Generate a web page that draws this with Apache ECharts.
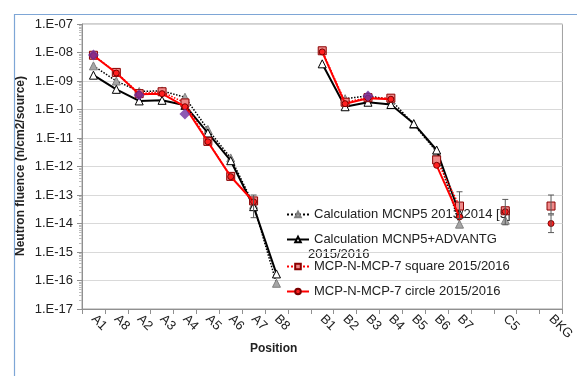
<!DOCTYPE html>
<html>
<head>
<meta charset="utf-8">
<script src="https://cdn.jsdelivr.net/npm/echarts@6/dist/echarts.min.js"></script>
<style>html,body{margin:0;padding:0;background:#fff}#c{width:577px;height:376px}</style>
</head>
<body>
<div id="c"></div>
<script>
const categories = ['A1','A8','A2','A3','A4','A5','A6','A7','B8','','B1','B2','B3','B4','B5','B6','B7','','C5','','BKG'];
const seriesNames = ['Calculation MCNP5 2013/2014 [5]','Calculation MCNP5+ADVANTG 2015/2016','MCP-N-MCP-7 square 2015/2016','MCP-N-MCP-7 circle 2015/2016'];
const mcnp5_2013 = [3.4e-9,1.0e-9,4.3e-10,4.5e-10,2.7e-10,2.0e-11,2.0e-12,4.6e-14,8e-17,null,null,2.4e-10,3.0e-10,2.2e-10,3.0e-11,3.3e-12,9.5e-15,null,1.3e-14,null,null];
const advantg = [1.6e-9,5.1e-10,2.0e-10,2.1e-10,1.4e-10,1.5e-11,1.6e-12,3.9e-14,1.7e-16,null,4.0e-9,1.25e-10,1.8e-10,1.5e-10,3.2e-11,3.8e-12,2.2e-14,null,null,null,null];
const mcpSquare = [8.0e-9,2.0e-9,3.6e-10,4.2e-10,1.7e-10,7.6e-12,4.5e-13,6.2e-14,null,null,1.15e-8,1.8e-10,2.6e-10,2.5e-10,null,1.7e-12,4.1e-14,null,2.8e-14,null,4.1e-14];
const mcpCircle = [7.8e-9,1.9e-9,3.4e-10,3.6e-10,1.25e-10,7.4e-12,4.4e-13,5.8e-14,null,null,1.05e-8,1.6e-10,2.5e-10,2.3e-10,null,1.1e-12,1.7e-14,null,2.6e-14,null,1.0e-14];
const diamonds = [8.2e-9,null,3.2e-10,null,6.9e-11,null,null,null,null,null,null,null,3.0e-10,null,null,null,null,null,null,null,null];
// error bars: [category, low, high]
const errorBars = [['A7',1.6e-14,1.0e-13],['B7',1.5e-14,1.3e-13],['C5',9e-15,7e-14],['BKG',2.2e-14,1.0e-13],['BKG',4.8e-15,2.0e-14]];
const yTicks = ['1.E-17','1.E-16','1.E-15','1.E-14','1.E-13','1.E-12','1.E-11','1.E-10','1.E-09','1.E-08','1.E-07'];

const FONT = 'Liberation Sans, Arial, sans-serif';
const chart = echarts.init(document.getElementById('c'), null, {renderer:'canvas'});

function legendAt(name, top, label) {
  return {
    data:[name], left:286, top:top, padding:0, itemWidth:22, itemHeight:7,
    selectedMode:false,
    formatter: label ? (()=>label) : undefined,
    textStyle:{fontFamily:FONT, fontSize:13, color:'#222'}
  };
}

const option = {
  animation:false,
  graphic:[
    {type:'rect', left:12, top:12, shape:{width:600, height:400}, style:{fill:'none', stroke:'#7ea6d6', lineWidth:1.2}, silent:true, z:-10},
    {type:'text', left:250, top:343, style:{text:'Position', font:'bold 12px '+FONT, fill:'#222'}},
    {type:'text', x:21, y:166, rotation:Math.PI/2,
     style:{text:'Neutron fluence (n/cm2/source)', font:'bold 12px '+FONT, fill:'#222', align:'center', verticalAlign:'middle'}},
    {type:'text', left:308, top:248, style:{text:'2015/2016', font:'13px '+FONT, fill:'#222'}}
  ],
  legend:[
    legendAt(seriesNames[0], 208),
    legendAt(seriesNames[1], 233, 'Calculation MCNP5+ADVANTG'),
    legendAt(seriesNames[2], 260),
    legendAt(seriesNames[3], 285)
  ],
  grid:{left:82, right:8, top:24, bottom:67, show:true, borderColor:'#a0a0a0', borderWidth:1, backgroundColor:'transparent'},
  xAxis:{
    type:'category', data:categories, boundaryGap:true,
    axisLine:{lineStyle:{color:'#909090'}},
    axisTick:{show:true, interval:0, length:5, lineStyle:{color:'#909090'}},
    axisLabel:{interval:0, rotate:-45, fontFamily:FONT, fontSize:13, color:'#222', margin:8},
    splitLine:{show:false}
  },
  yAxis:{
    type:'log', logBase:10, min:1e-17, max:1e-7, interval:1,
    axisLine:{show:true, lineStyle:{color:'#909090'}},
    axisTick:{show:true, length:5, lineStyle:{color:'#909090'}},
    minorTick:{show:true, splitNumber:9, length:3, lineStyle:{color:'#bdbdbd'}},
    axisLabel:{fontFamily:FONT, fontSize:13, color:'#222', margin:9,
      formatter:(v)=>{const e=Math.round(Math.log10(v)); return yTicks[e+17];}},
    splitLine:{show:true, lineStyle:{color:'#d9d9d9', width:1}}
  },
  series:[
    {name:seriesNames[0], type:'line', data:mcnp5_2013, symbol:'triangle', symbolSize:8,
     lineStyle:{color:'#000', width:1.5, type:'dotted'},
     itemStyle:{color:'#a6a6a6', borderColor:'#7f7f7f', borderWidth:1}, z:2},
    {name:seriesNames[1], type:'line', data:advantg, symbol:'triangle', symbolSize:8,
     lineStyle:{color:'#000', width:2, type:'solid'},
     itemStyle:{color:'#fff', borderColor:'#000', borderWidth:1}, z:3},
    {name:seriesNames[2], type:'line', data:mcpSquare, symbol:'rect', symbolSize:8,
     lineStyle:{color:'#ff0000', width:1.5, type:'dotted'},
     itemStyle:{color:'#f08a8a', borderColor:'#8b0000', borderWidth:1}, z:4},
    {name:seriesNames[3], type:'line', data:mcpCircle, symbol:'circle', symbolSize:6,
     lineStyle:{color:'#ff0000', width:2, type:'solid'},
     itemStyle:{color:'#ff2020', borderColor:'#7a0000', borderWidth:1}, z:5},
    {name:'diamond', type:'scatter', data:diamonds, symbol:'diamond', symbolSize:11,
     itemStyle:{color:'#7030a0'}, z:6},
    {name:'err', type:'custom', z:7,
     data:errorBars.map(e=>[categories.lastIndexOf(e[0]), e[1], e[2]]),
     encode:{x:0, y:[1,2]},
     renderItem:(params, api)=>{
       const x = api.value(0);
       const lo = api.coord([x, api.value(1)]);
       const hi = api.coord([x, api.value(2)]);
       const w = 3;
       const st = {stroke:'#595959', lineWidth:1};
       return {type:'group', children:[
         {type:'line', shape:{x1:lo[0],y1:lo[1],x2:hi[0],y2:hi[1]}, style:st},
         {type:'line', shape:{x1:hi[0]-w,y1:hi[1],x2:hi[0]+w,y2:hi[1]}, style:st},
         {type:'line', shape:{x1:lo[0]-w,y1:lo[1],x2:lo[0]+w,y2:lo[1]}, style:st}
       ]};
     }}
  ]
};
chart.setOption(option);
</script>
</body>
</html>
